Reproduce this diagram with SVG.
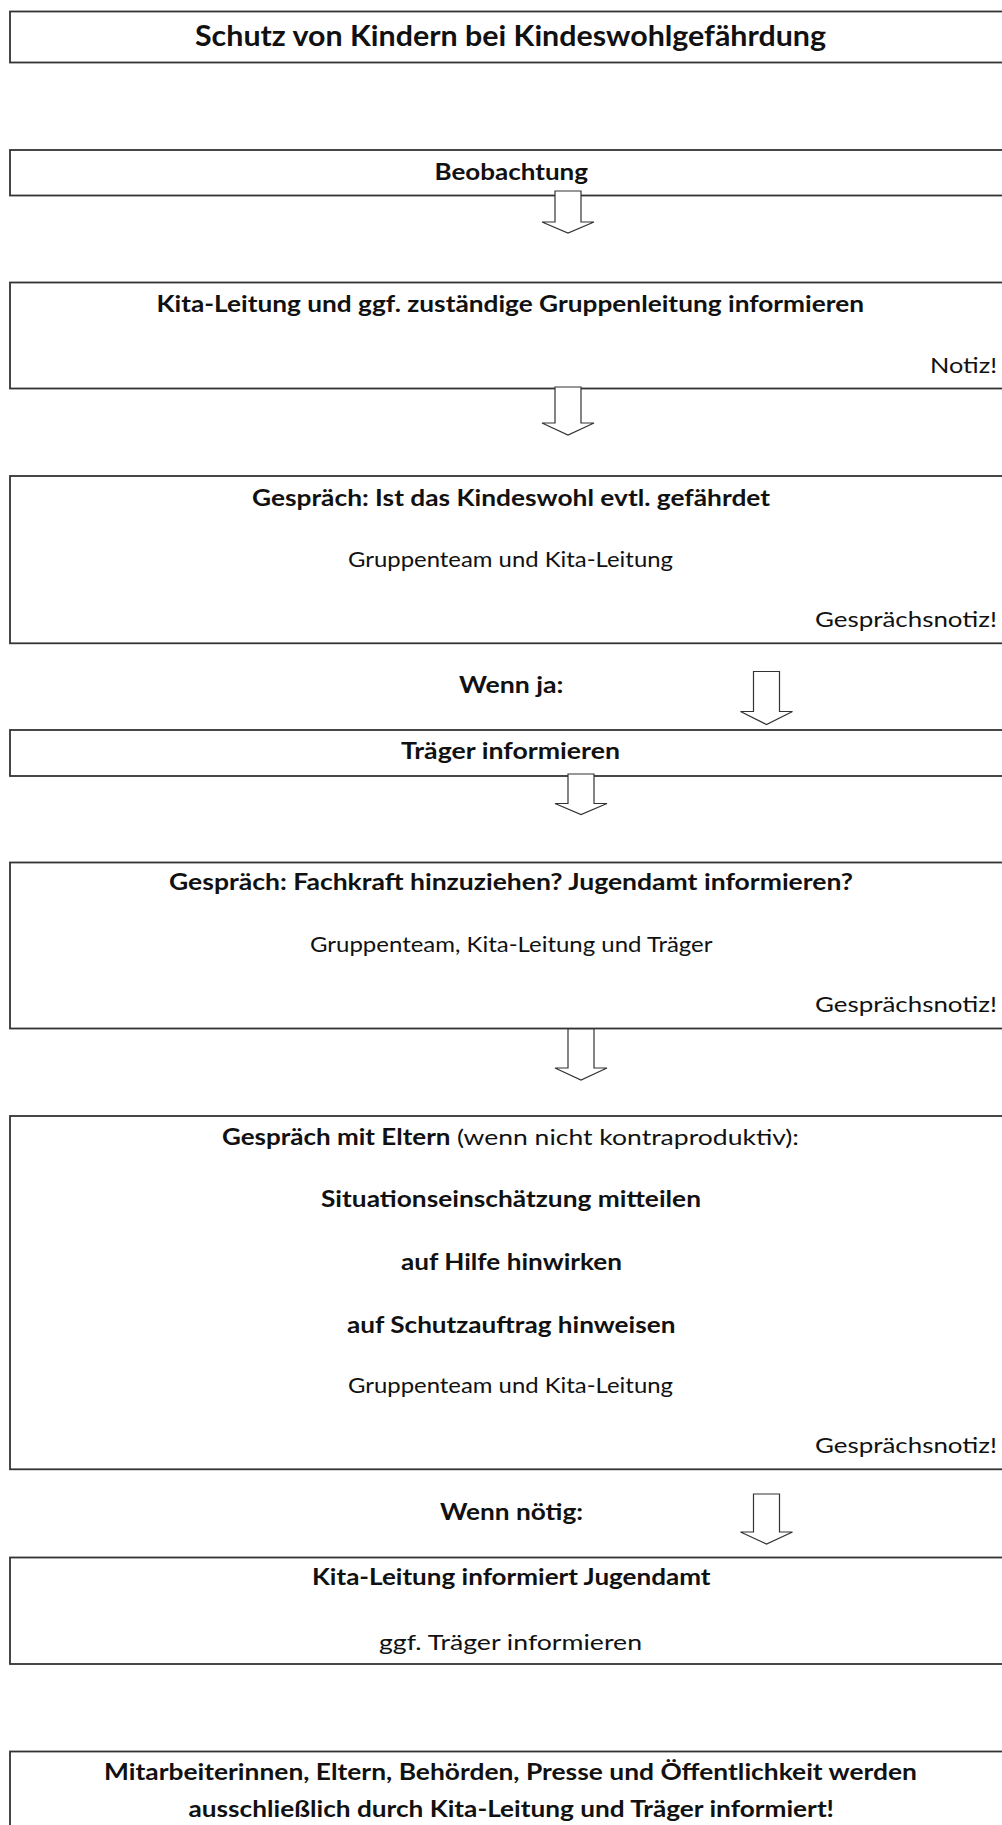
<svg xmlns="http://www.w3.org/2000/svg" width="1002" height="1825" viewBox="0 0 1002 1825">
<style>
.box{fill:#fff;stroke:#333;stroke-width:1.8}
.arrow{fill:#fff;stroke:#333;stroke-width:1.2;stroke-linejoin:miter}
text{font-family:Lato,"Open Sans","Liberation Sans",sans-serif;fill:#111}
.t{font-size:29px;font-weight:bold}
.b{font-size:22px;font-weight:bold}
.r{font-size:22px;font-weight:normal}
</style>
<rect x="0" y="0" width="1002" height="1825" fill="#fff"/>

<g id="title">
<rect class="box" x="10" y="11.5" width="1010" height="51"/>
<text class="t" x="195" y="45.5" textLength="631" lengthAdjust="spacingAndGlyphs">Schutz von Kindern bei Kindeswohlgefährdung</text>
</g>

<g id="beobachtung">
<rect class="box" x="10" y="150" width="1010" height="45.5"/>
<text class="b" x="434.5" y="179.5" textLength="153.5" lengthAdjust="spacingAndGlyphs">Beobachtung</text>
</g>

<g id="kita-leitung-informieren">
<rect class="box" x="10" y="282.5" width="1010" height="106"/>
<text class="b" x="156.5" y="311.7" textLength="707.5" lengthAdjust="spacingAndGlyphs">Kita-Leitung und ggf. zuständige Gruppenleitung informieren</text>
<text class="r" x="930" y="373" textLength="67" lengthAdjust="spacingAndGlyphs">Notiz!</text>
</g>

<g id="gespraech-kindeswohl">
<rect class="box" x="10" y="476" width="1010" height="167.3"/>
<text class="b" x="252" y="506" textLength="518" lengthAdjust="spacingAndGlyphs">Gespräch: Ist das Kindeswohl evtl. gefährdet</text>
<text class="r" x="348" y="566.5" textLength="325" lengthAdjust="spacingAndGlyphs">Gruppenteam und Kita-Leitung</text>
<text class="r" x="815" y="626.7" textLength="182" lengthAdjust="spacingAndGlyphs">Gesprächsnotiz!</text>
</g>

<g id="label-wenn-ja">
<text class="b" x="459" y="693.3" textLength="104.5" lengthAdjust="spacingAndGlyphs">Wenn ja:</text>
</g>

<g id="traeger-informieren">
<rect class="box" x="10" y="730" width="1010" height="46"/>
<text class="b" x="401" y="759" textLength="219" lengthAdjust="spacingAndGlyphs">Träger informieren</text>
</g>

<g id="gespraech-fachkraft">
<rect class="box" x="10" y="862.5" width="1010" height="166"/>
<text class="b" x="169" y="890" textLength="684" lengthAdjust="spacingAndGlyphs">Gespräch: Fachkraft hinzuziehen? Jugendamt informieren?</text>
<text class="r" x="310" y="951.7" textLength="402.5" lengthAdjust="spacingAndGlyphs">Gruppenteam, Kita-Leitung und Träger</text>
<text class="r" x="815" y="1011.7" textLength="182" lengthAdjust="spacingAndGlyphs">Gesprächsnotiz!</text>
</g>

<g id="gespraech-eltern">
<rect class="box" x="10" y="1116" width="1010" height="353.3"/>
<text class="b" x="222" y="1145" textLength="228.5" lengthAdjust="spacingAndGlyphs">Gespräch mit Eltern</text>
<text class="r" x="457" y="1145" textLength="342" lengthAdjust="spacingAndGlyphs">(wenn nicht kontraproduktiv):</text>
<text class="b" x="321" y="1206.7" textLength="380" lengthAdjust="spacingAndGlyphs">Situationseinschätzung mitteilen</text>
<text class="b" x="401" y="1270" textLength="221" lengthAdjust="spacingAndGlyphs">auf Hilfe hinwirken</text>
<text class="b" x="347" y="1332.7" textLength="328.4" lengthAdjust="spacingAndGlyphs">auf Schutzauftrag hinweisen</text>
<text class="r" x="348" y="1393.3" textLength="325" lengthAdjust="spacingAndGlyphs">Gruppenteam und Kita-Leitung</text>
<text class="r" x="815" y="1453.3" textLength="182" lengthAdjust="spacingAndGlyphs">Gesprächsnotiz!</text>
</g>

<g id="label-wenn-noetig">
<text class="b" x="440" y="1520" textLength="143" lengthAdjust="spacingAndGlyphs">Wenn nötig:</text>
</g>

<g id="jugendamt">
<rect class="box" x="10" y="1557.5" width="1010" height="106.5"/>
<text class="b" x="312" y="1585" textLength="398.5" lengthAdjust="spacingAndGlyphs">Kita-Leitung informiert Jugendamt</text>
<text class="r" x="379" y="1650" textLength="263" lengthAdjust="spacingAndGlyphs">ggf. Träger informieren</text>
</g>

<g id="hinweis">
<rect class="box" x="10" y="1751.5" width="1010" height="100"/>
<text class="b" x="104" y="1780" textLength="813" lengthAdjust="spacingAndGlyphs">Mitarbeiterinnen, Eltern, Behörden, Presse und Öffentlichkeit werden</text>
<text class="b" x="188.5" y="1816.7" textLength="645.5" lengthAdjust="spacingAndGlyphs">ausschließlich durch Kita-Leitung und Träger informiert!</text>
</g>

<g id="connectors">
<path class="arrow" d="M555,191 H581 V222 H594 L568,233 L542,222 H555 Z"/>
<path class="arrow" d="M555,387 H581 V423 H594 L568,435 L542,423 H555 Z"/>
<path class="arrow" d="M753.5,671.5 H779.5 V711.5 H792.5 L766.5,724.5 L740.5,711.5 H753.5 Z"/>
<path class="arrow" d="M568,774 H594 V803.5 H607 L581,814.5 L555,803.5 H568 Z"/>
<path class="arrow" d="M568,1029 H594 V1068 H607 L581,1080 L555,1068 H568 Z"/>
<path class="arrow" d="M753.5,1494 H779.5 V1532 H792.5 L766.5,1544 L740.5,1532 H753.5 Z"/>
</g>
</svg>
